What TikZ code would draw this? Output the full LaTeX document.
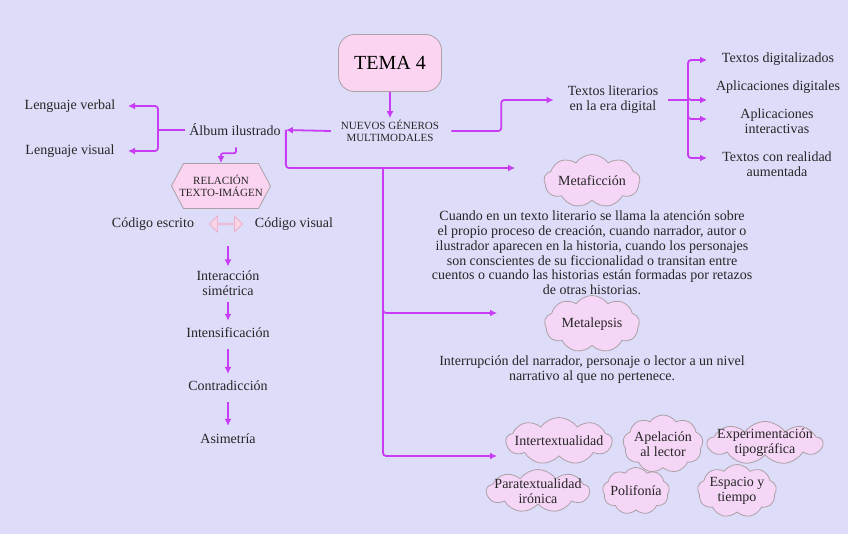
\documentclass[tikz,border=0pt]{standalone}
\usepackage{fontspec}
\setmainfont{Liberation Serif}
\usetikzlibrary{arrows.meta, positioning, shapes.symbols, shapes.arrows}

\definecolor{bgcol}{RGB}{221,221,250}
\definecolor{arrcol}{RGB}{200,60,245}
\definecolor{puffill}{RGB}{246,214,246}
\definecolor{boxfill}{RGB}{250,212,240}
\definecolor{edgegray}{RGB}{172,160,166}
\definecolor{dblfill}{RGB}{250,212,230}
\definecolor{dbldraw}{RGB}{236,176,204}

\begin{document}
\begin{tikzpicture}[
        x=1pt, y=-1pt,
        txt/.style={inner sep=2pt, font=\fontsize{14}{14.8}\selectfont, align=center, text=black!85},
        caps/.style={inner sep=2pt, font=\fontsize{11}{11.6}\selectfont, align=center, text=black!85},
        puff/.style={cloud, cloud puffs=9, cloud puff arc=110, cloud ignores aspect, fill=puffill, draw=edgegray, line width=0.8pt, inner sep=0pt},
        link/.style={arrcol, line width=1.8pt, rounded corners=3pt},
        arr/.style={link, -{Latex[length=7pt, width=7pt]}}
    ]

    % Background
    \fill[bgcol] (0,0) rectangle (848,534);
    \useasboundingbox (0,0) rectangle (848,534);

    % Top
    \node[draw=edgegray, fill=boxfill, line width=0.8pt, rounded corners=16pt, minimum width=103pt, minimum height=57pt, font=\fontsize{20}{22}\selectfont] (tema) at (390,63) {TEMA 4};
    \node[caps] (nuevos) at (390,131) {NUEVOS GÉNEROS\\MULTIMODALES};

    % Left branch: album
    \node[txt] (album) at (235,130) {Álbum ilustrado};
    \node[txt] (lverbal) at (70,106) {Lenguaje verbal};
    \node[txt] (lvisual) at (70,151) {Lenguaje visual};
    \node[signal, signal to=west and east, signal pointer angle=124, fill=boxfill, draw=edgegray, line width=0.8pt, minimum width=99pt, minimum height=45pt, inner sep=0pt] (relacion) at (221,186) {};
    \node[caps] (relacionlbl) at (relacion) {RELACIÓN\\TEXTO-IMÁGEN};
    \node[txt] (cescrito) at (153,224) {Código escrito};
    \node[txt] (cvisual) at (294,224) {Código visual};
    \node[double arrow, double arrow head extend=4pt, fill=dblfill, draw=dbldraw, line width=0.8pt, minimum height=33pt, minimum width=16pt, inner sep=0pt] (dbl) at (226,224) {};
    \node[txt] (inter) at (228,283) {Interacción\\simétrica};
    \node[txt] (intens) at (228,333) {Intensificación};
    \node[txt] (contra) at (228,386) {Contradicción};
    \node[txt] (asim) at (228,439) {Asimetría};

    % Right branch: digital texts
    \node[txt] (tlit) at (613,100) {Textos literarios\\en la era digital};
    \node[txt] (tdig) at (778,59) {Textos digitalizados};
    \node[txt] (apdig) at (778,87) {Aplicaciones digitales};
    \node[txt] (apint) at (777,121) {Aplicaciones\\interactivas};
    \node[txt] (taum) at (777,164) {Textos con realidad\\aumentada};

    % Clouds (shape first, text on top)
    \node[puff, minimum width=96pt, minimum height=53pt] (metaf) at (592,181) {};
    \node[txt] (metaflbl) at (metaf) {Metaficción};
    \node[txt] (metaftxt) at (592,253) {Cuando en un texto literario se llama la atención sobre\\el propio proceso de creación, cuando narrador, autor o\\ilustrador aparecen en la historia, cuando los personajes\\son conscientes de su ficcionalidad o transitan entre\\cuentos o cuando las historias están formadas por retazos\\de otras historias.};
    \node[puff, minimum width=95pt, minimum height=57pt] (metal) at (592,324) {};
    \node[txt] (metallbl) at (metal) {Metalepsis};
    \node[txt] (metaltxt) at (592,370) {Interrupción del narrador, personaje o lector a un nivel\\narrativo al que no pertenece.};

    \node[puff, minimum width=106pt, minimum height=47pt] (intert) at (559,441) {};
    \node[txt] (intertlbl) at (intert) {Intertextualidad};
    \node[puff, minimum width=80pt, minimum height=58pt] (apel) at (663,444) {};
    \node[txt] (apellbl) at (apel) {Apelación\\al lector};
    \node[puff, minimum width=115pt, minimum height=43pt] (exper) at (765,443) {};
    \node[txt] (experlbl) at (exper) {Experimentación\\tipográfica};
    \node[puff, minimum width=103pt, minimum height=43pt] (parat) at (538,491) {};
    \node[txt] (paratlbl) at (parat) {Paratextualidad\\irónica};
    \node[puff, minimum width=67pt, minimum height=47pt] (polif) at (636,491) {};
    \node[txt] (poliflbl) at (polif) {Polifonía};
    \node[puff, minimum width=79pt, minimum height=53pt] (espac) at (737,491) {};
    \node[txt] (espaclbl) at (espac) {Espacio y\\tiempo};

    % --- Junctions ---
    \coordinate (jl) at (158,130);
    \coordinate (b1) at (128,106);
    \coordinate (b2) at (128,151);
    \coordinate (jt) at (383,168);
    \coordinate (mfin) at (515,168);
    \coordinate (mlin) at (497,313);
    \coordinate (clin) at (497,456);
    \coordinate (jr) at (688,100);
    \coordinate (a1) at (707,60);
    \coordinate (a2) at (707,100);
    \coordinate (a3) at (707,119);
    \coordinate (a4) at (707,158);

    % --- Edges ---
    \draw[arr] (tema) -- (nuevos);
    \draw[arr] ([xshift=-8pt]nuevos.west) -- ([xshift=3pt]album.east);
    \draw[arr] ([xshift=3pt]album.east) |- (mfin);
    \draw[arr] (jt) |- (mlin);
    \draw[arr] (jt) |- (clin);
    \draw[arr] ([xshift=10pt]nuevos.east) -- ++(50,0) |- ([xshift=-12pt]tlit.west);

    \draw[link] ([xshift=8pt]tlit.east) -- (jr);
    \foreach \i in {1,...,4}
        \draw[arr] (jr) |- (a\i);

    \draw[link] ([xshift=-2pt]album.west) -- (jl);
    \draw[arr] (jl) |- (b1);
    \draw[arr] (jl) |- (b2);
    \draw[arr, rounded corners=2pt] ([xshift=1pt, yshift=-9pt]album.south) -- ++(0,6) -| (relacion.north);

    % Chain below the double arrow
    \draw[arr, shorten <=21pt, shorten >=2pt] (inter.north |- dbl.south) -- (inter.north);
    \draw[arr, shorten <=4pt, shorten >=5pt] (inter) -- (intens);
    \draw[arr, shorten <=9pt, shorten >=5pt] (intens) -- (contra);
    \draw[arr, shorten <=9pt, shorten >=6pt] (contra) -- (asim);

\end{tikzpicture}
\end{document}
